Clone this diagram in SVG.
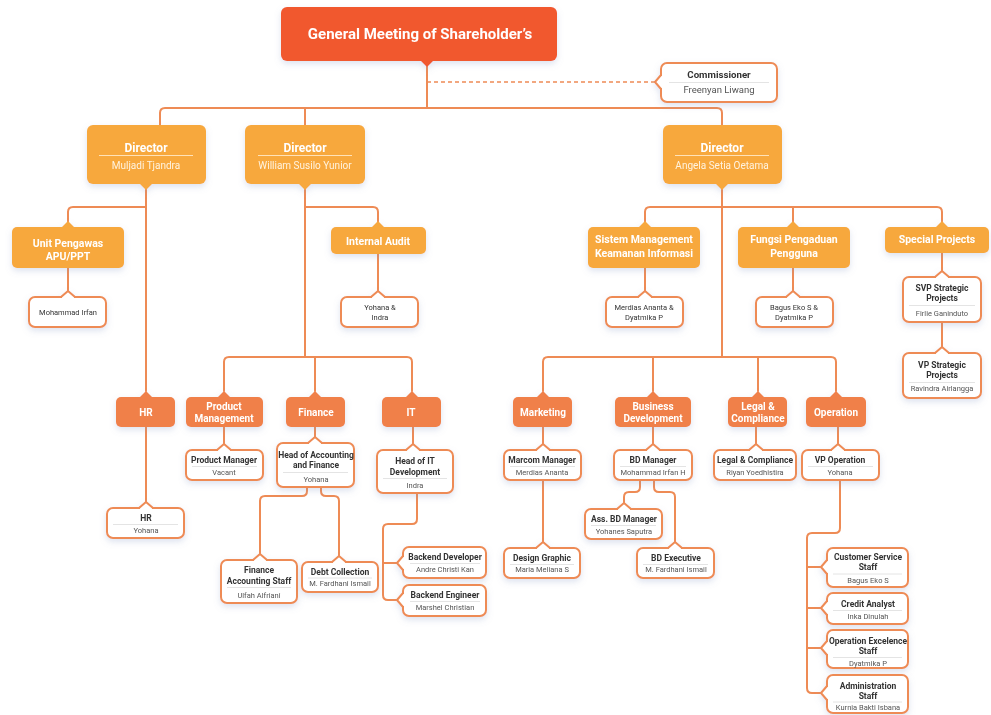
<svg xmlns="http://www.w3.org/2000/svg" xmlns:xlink="http://www.w3.org/1999/xlink" width="991" height="715" viewBox="0 0 991 715">
<style>
text{font-family:Roboto,"Liberation Sans",sans-serif;text-anchor:middle}
.ln{fill:none;stroke:#EE8B55;stroke-width:2;stroke-linejoin:round;stroke-linecap:round}
.dash{fill:none;stroke:#EE8B55;stroke-width:1.3;stroke-dasharray:4 3}
.gm{fill:#F1592F}
.am{fill:#F7A83E}
.dp{fill:#F08048}
.wb{fill:#fff;stroke:#EE8B55;stroke-width:2}
.sepw{stroke:#FFE2B8;stroke-width:1}
.sep{stroke:#DDDDDD;stroke-width:0.8}
.t0{font-size:15px;font-weight:700;fill:#fff}
.dt{font-size:12px;font-weight:700;fill:#fff}
.dn{font-size:10px;fill:#FFF3DF}
.at{font-size:10.5px;font-weight:700;fill:#fff}
.pt{font-size:10px;font-weight:700;fill:#fff}
.wt{font-size:8.5px;font-weight:700;fill:#333}
.wn{font-size:7.5px;fill:#555}
.ws{font-size:7.5px;fill:#333}
</style>
<defs>
<filter id="sh" x="-20%" y="-20%" width="140%" height="160%">
<feDropShadow dx="0" dy="3" stdDeviation="3" flood-color="#7C8FC0" flood-opacity="0.25"/>
</filter>
<path id="nUp" d="M-7 1 L0 -6 L7 1 Z"/>
<path id="nDown" d="M-7 -1 L0 6 L7 -1 Z"/>
<g id="wUp"><path d="M-6 1.2 L-6 -0.5 L0 -5.5 L6 -0.5 L6 1.2 Z" fill="#fff"/><path d="M-7 0 L0 -6 L7 0" fill="none" stroke="#EE8B55" stroke-width="2" stroke-linejoin="round"/></g>
<g id="wLeft"><path d="M1.2 -6 L-0.5 -6 L-5.5 0 L-0.5 6 L1.2 6 Z" fill="#fff"/><path d="M0 -7 L-6 0 L0 7" fill="none" stroke="#EE8B55" stroke-width="2" stroke-linejoin="round"/></g>
</defs>

<g id="connectors">
<path class="ln" d="M427 64 V108"/>
<path class="dash" d="M427 82 H655"/>
<path class="ln" d="M160 125 V113 Q160 108 165 108 H717 Q722 108 722 113 V125"/>
<path class="ln" d="M305 108 V125"/>
<path class="ln" d="M146 184 V391"/>
<path class="ln" d="M146 207 H73 Q68 207 68 212 V222"/>
<path class="ln" d="M68 268 V292"/>
<path class="ln" d="M146 427 V503"/>
<path class="ln" d="M305 184 V357"/>
<path class="ln" d="M305 207 H373 Q378 207 378 212 V222"/>
<path class="ln" d="M378 254 V292"/>
<path class="ln" d="M224 391 V362 Q224 357 229 357 H407 Q412 357 412 362 V391"/>
<path class="ln" d="M315 357 V391"/>
<path class="ln" d="M224 427 V445"/>
<path class="ln" d="M315 427 V438"/>
<path class="ln" d="M413 427 V445"/>
<path class="ln" d="M307 487 V491 Q307 496 302 496 H265 Q260 496 260 501 V555"/>
<path class="ln" d="M321 487 V491 Q321 496 326 496 H334 Q339 496 339 501 V557"/>
<path class="ln" d="M417 493 V519 Q417 524 412 524 H388 Q383 524 383 529 V595 Q383 600 388 600 H398"/>
<path class="ln" d="M383 563 H398"/>
<path class="ln" d="M722 184 V357"/>
<path class="ln" d="M645 222 V212 Q645 207 650 207 H937 Q942 207 942 212 V222"/>
<path class="ln" d="M793 207 V222"/>
<path class="ln" d="M645 268 V292"/>
<path class="ln" d="M793 268 V292"/>
<path class="ln" d="M942 253 V272"/>
<path class="ln" d="M942 322 V348"/>
<path class="ln" d="M543 391 V362 Q543 357 548 357 H831 Q836 357 836 362 V391"/>
<path class="ln" d="M653 357 V391"/>
<path class="ln" d="M758 357 V391"/>
<path class="ln" d="M543 427 V445"/>
<path class="ln" d="M543 480 V543"/>
<path class="ln" d="M653 427 V445"/>
<path class="ln" d="M640 480 V487 Q640 492 635 492 H629 Q624 492 624 497 V504"/>
<path class="ln" d="M654 480 V487 Q654 492 659 492 H670 Q675 492 675 497 V543"/>
<path class="ln" d="M756 427 V445"/>
<path class="ln" d="M838 427 V445"/>
<path class="ln" d="M840 480 V528 Q840 533 835 533 H812 Q807 533 807 538 V688 Q807 693 812 693 H822"/>
<path class="ln" d="M807 567 H822"/>
<path class="ln" d="M807 608 H822"/>
<path class="ln" d="M807 648 H822"/>
</g>

<g id="gms" filter="url(#sh)">
<rect class="gm" x="281" y="7" width="276" height="54" rx="6"/>
<use href="#nDown" class="gm" x="427" y="61"/>
<text class="t0" x="420" y="39">General Meeting of Shareholder’s</text>
</g>
<g id="commissioner" filter="url(#sh)">
<rect class="wb" x="661" y="63" width="116" height="39" rx="6"/>
<use href="#wLeft" x="661" y="82"/>
<text class="wt" x="719" y="78" style="font-size:9.7px">Commissioner</text>
<line class="sep" x1="669" y1="82.5" x2="769" y2="82.5"/>
<text class="wn" x="719" y="93" style="font-size:9.5px">Freenyan Liwang</text>
</g>

<g id="dir1" filter="url(#sh)">
<rect class="am" x="87" y="125" width="119" height="59" rx="6"/>
<use href="#nDown" class="am" x="146" y="184"/>
<text class="dt" x="146" y="152">Director</text>
<line class="sepw" x1="99" y1="155.5" x2="193" y2="155.5"/>
<text class="dn" x="146" y="169">Muljadi Tjandra</text>
</g>
<g id="dir2" filter="url(#sh)">
<rect class="am" x="245" y="125" width="120" height="59" rx="6"/>
<use href="#nDown" class="am" x="305" y="184"/>
<text class="dt" x="305" y="152">Director</text>
<line class="sepw" x1="258" y1="155.5" x2="352" y2="155.5"/>
<text class="dn" x="305" y="169">William Susilo Yunior</text>
</g>
<g id="dir3" filter="url(#sh)">
<rect class="am" x="663" y="125" width="119" height="59" rx="6"/>
<use href="#nDown" class="am" x="722" y="184"/>
<text class="dt" x="722" y="152">Director</text>
<line class="sepw" x1="675" y1="155.5" x2="769" y2="155.5"/>
<text class="dn" x="722" y="169">Angela Setia Oetama</text>
</g>

<g id="apu" filter="url(#sh)">
<rect class="am" x="12" y="227" width="112" height="41" rx="5"/>
<use href="#nUp" class="am" x="68" y="227"/>
<text class="at" x="68" y="247">Unit Pengawas</text>
<text class="at" x="68" y="260">APU/PPT</text>
</g>
<g id="audit" filter="url(#sh)">
<rect class="am" x="331" y="227" width="95" height="27" rx="5"/>
<use href="#nUp" class="am" x="378" y="227"/>
<text class="at" x="378" y="245">Internal Audit</text>
</g>
<g id="smki" filter="url(#sh)">
<rect class="am" x="588" y="227" width="112" height="41" rx="5"/>
<use href="#nUp" class="am" x="645" y="227"/>
<text class="at" x="644" y="243">Sistem Management</text>
<text class="at" x="644" y="257">Keamanan Informasi</text>
</g>
<g id="fpp" filter="url(#sh)">
<rect class="am" x="738" y="227" width="112" height="41" rx="5"/>
<use href="#nUp" class="am" x="793" y="227"/>
<text class="at" x="794" y="243">Fungsi Pengaduan</text>
<text class="at" x="794" y="257">Pengguna</text>
</g>
<g id="special" filter="url(#sh)">
<rect class="am" x="885" y="227" width="104" height="26" rx="5"/>
<use href="#nUp" class="am" x="942" y="227"/>
<text class="at" x="937" y="243">Special Projects</text>
</g>

<g id="irfan" filter="url(#sh)">
<rect class="wb" x="29" y="297" width="77" height="30" rx="6"/>
<use href="#wUp" x="68" y="297"/>
<text class="ws" x="68" y="315">Mohammad Irfan</text>
</g>
<g id="yohana-indra" filter="url(#sh)">
<rect class="wb" x="341" y="297" width="77" height="30" rx="6"/>
<use href="#wUp" x="378" y="297"/>
<text class="ws" x="380" y="310">Yohana &amp;</text>
<text class="ws" x="380" y="320">Indra</text>
</g>
<g id="merdias-dyatmika" filter="url(#sh)">
<rect class="wb" x="606" y="297" width="77" height="30" rx="6"/>
<use href="#wUp" x="645" y="297"/>
<text class="ws" x="644" y="310">Merdias Ananta &amp;</text>
<text class="ws" x="644" y="320">Dyatmika P</text>
</g>
<g id="bagus-dyatmika" filter="url(#sh)">
<rect class="wb" x="756" y="297" width="77" height="30" rx="6"/>
<use href="#wUp" x="793" y="297"/>
<text class="ws" x="794" y="310">Bagus Eko S &amp;</text>
<text class="ws" x="794" y="320">Dyatmika P</text>
</g>
<g id="svp" filter="url(#sh)">
<rect class="wb" x="903" y="277" width="78" height="45" rx="6"/>
<use href="#wUp" x="942" y="277"/>
<text class="wt" x="942" y="291">SVP Strategic</text>
<text class="wt" x="942" y="301">Projects</text>
<line class="sep" x1="909" y1="305.5" x2="975" y2="305.5"/>
<text class="wn" x="942" y="316">Firlie Ganinduto</text>
</g>
<g id="vp-strategic" filter="url(#sh)">
<rect class="wb" x="903" y="353" width="78" height="45" rx="6"/>
<use href="#wUp" x="942" y="353"/>
<text class="wt" x="942" y="368">VP Strategic</text>
<text class="wt" x="942" y="378">Projects</text>
<line class="sep" x1="909" y1="382.5" x2="975" y2="382.5"/>
<text class="wn" x="942" y="391">Ravindra Airlangga</text>
</g>

<g id="hr" filter="url(#sh)">
<rect class="dp" x="116" y="397" width="59" height="30" rx="5"/>
<use href="#nUp" class="dp" x="146" y="397"/>
<text class="pt" x="146" y="416">HR</text>
</g>
<g id="product" filter="url(#sh)">
<rect class="dp" x="186" y="397" width="77" height="30" rx="5"/>
<use href="#nUp" class="dp" x="224" y="397"/>
<text class="pt" x="224" y="409.5">Product</text>
<text class="pt" x="224" y="421.5">Management</text>
</g>
<g id="finance" filter="url(#sh)">
<rect class="dp" x="286" y="397" width="59" height="30" rx="5"/>
<use href="#nUp" class="dp" x="315" y="397"/>
<text class="pt" x="316" y="416">Finance</text>
</g>
<g id="it" filter="url(#sh)">
<rect class="dp" x="382" y="397" width="59" height="30" rx="5"/>
<use href="#nUp" class="dp" x="412" y="397"/>
<text class="pt" x="411" y="416">IT</text>
</g>
<g id="marketing" filter="url(#sh)">
<rect class="dp" x="513" y="397" width="59" height="30" rx="5"/>
<use href="#nUp" class="dp" x="543" y="397"/>
<text class="pt" x="543" y="416">Marketing</text>
</g>
<g id="bizdev" filter="url(#sh)">
<rect class="dp" x="615" y="397" width="76" height="30" rx="5"/>
<use href="#nUp" class="dp" x="653" y="397"/>
<text class="pt" x="653" y="409.5">Business</text>
<text class="pt" x="653" y="421.5">Development</text>
</g>
<g id="legal" filter="url(#sh)">
<rect class="dp" x="728" y="397" width="59" height="30" rx="5"/>
<use href="#nUp" class="dp" x="758" y="397"/>
<text class="pt" x="758" y="409.5">Legal &amp;</text>
<text class="pt" x="758" y="421.5">Compliance</text>
</g>
<g id="operation" filter="url(#sh)">
<rect class="dp" x="806" y="397" width="60" height="30" rx="5"/>
<use href="#nUp" class="dp" x="836" y="397"/>
<text class="pt" x="836" y="416">Operation</text>
</g>

<g id="product-manager" filter="url(#sh)">
<rect class="wb" x="186" y="450" width="77" height="30" rx="6"/>
<use href="#wUp" x="224" y="450"/>
<text class="wt" x="224" y="463">Product Manager</text>
<line class="sep" x1="192" y1="466.5" x2="257" y2="466.5"/>
<text class="wn" x="224" y="475">Vacant</text>
</g>
<g id="head-accounting" filter="url(#sh)">
<rect class="wb" x="277" y="443" width="77" height="44" rx="6"/>
<use href="#wUp" x="315" y="443"/>
<text class="wt" x="316" y="458">Head of Accounting</text>
<text class="wt" x="316" y="468">and Finance</text>
<line class="sep" x1="283" y1="472.5" x2="348" y2="472.5"/>
<text class="wn" x="316" y="482">Yohana</text>
</g>
<g id="head-it" filter="url(#sh)">
<rect class="wb" x="377" y="450" width="76" height="43" rx="6"/>
<use href="#wUp" x="413" y="450"/>
<text class="wt" x="415" y="464">Head of IT</text>
<text class="wt" x="415" y="474.5">Development</text>
<line class="sep" x1="383" y1="478.5" x2="447" y2="478.5"/>
<text class="wn" x="415" y="488">Indra</text>
</g>
<g id="hr-yohana" filter="url(#sh)">
<rect class="wb" x="107" y="508" width="77" height="30" rx="6"/>
<use href="#wUp" x="146" y="508"/>
<text class="wt" x="146" y="521">HR</text>
<line class="sep" x1="113" y1="524.5" x2="178" y2="524.5"/>
<text class="wn" x="146" y="533">Yohana</text>
</g>
<g id="marcom" filter="url(#sh)">
<rect class="wb" x="504" y="450" width="77" height="30" rx="6"/>
<use href="#wUp" x="543" y="450"/>
<text class="wt" x="542" y="463">Marcom Manager</text>
<line class="sep" x1="510" y1="466.5" x2="575" y2="466.5"/>
<text class="wn" x="542" y="474.5">Merdias Ananta</text>
</g>
<g id="bd-manager" filter="url(#sh)">
<rect class="wb" x="614" y="450" width="78" height="30" rx="6"/>
<use href="#wUp" x="653" y="450"/>
<text class="wt" x="653" y="463">BD Manager</text>
<line class="sep" x1="620" y1="466.5" x2="686" y2="466.5"/>
<text class="wn" x="653" y="474.5">Mohammad Irfan H</text>
</g>
<g id="legal-compliance" filter="url(#sh)">
<rect class="wb" x="714" y="450" width="82" height="30" rx="6"/>
<use href="#wUp" x="756" y="450"/>
<text class="wt" x="755" y="463">Legal &amp; Compliance</text>
<line class="sep" x1="720" y1="466.5" x2="790" y2="466.5"/>
<text class="wn" x="755" y="474.5">Riyan Yoedhistira</text>
</g>
<g id="vp-operation" filter="url(#sh)">
<rect class="wb" x="802" y="450" width="77" height="30" rx="6"/>
<use href="#wUp" x="838" y="450"/>
<text class="wt" x="840" y="463">VP Operation</text>
<line class="sep" x1="808" y1="466.5" x2="873" y2="466.5"/>
<text class="wn" x="840" y="474.5">Yohana</text>
</g>

<g id="finance-staff" filter="url(#sh)">
<rect class="wb" x="221" y="560" width="76" height="43" rx="6"/>
<use href="#wUp" x="260" y="560"/>
<text class="wt" x="259" y="573">Finance</text>
<text class="wt" x="259" y="583.5">Accounting Staff</text>
<line class="sep" x1="227" y1="587.5" x2="291" y2="587.5"/>
<text class="wn" x="259" y="597.5">Ulfah Alfriani</text>
</g>
<g id="debt" filter="url(#sh)">
<rect class="wb" x="302" y="562" width="76" height="30" rx="6"/>
<use href="#wUp" x="339" y="562"/>
<text class="wt" x="340" y="574.5">Debt Collection</text>
<line class="sep" x1="308" y1="578" x2="372" y2="578"/>
<text class="wn" x="340" y="586">M. Fardhani Ismail</text>
</g>
<g id="backend-dev" filter="url(#sh)">
<rect class="wb" x="403" y="547" width="83" height="31" rx="6"/>
<use href="#wLeft" x="403" y="563"/>
<text class="wt" x="445" y="560">Backend Developer</text>
<line class="sep" x1="410" y1="563.5" x2="480" y2="563.5"/>
<text class="wn" x="445" y="571.5">Andre Christi Kan</text>
</g>
<g id="backend-eng" filter="url(#sh)">
<rect class="wb" x="403" y="585" width="83" height="31" rx="6"/>
<use href="#wLeft" x="403" y="600"/>
<text class="wt" x="445" y="598">Backend Engineer</text>
<line class="sep" x1="410" y1="601.5" x2="480" y2="601.5"/>
<text class="wn" x="445" y="609.5">Marshel Christian</text>
</g>
<g id="ass-bd" filter="url(#sh)">
<rect class="wb" x="585" y="509" width="77" height="30" rx="6"/>
<use href="#wUp" x="624" y="509"/>
<text class="wt" x="624" y="522">Ass. BD Manager</text>
<line class="sep" x1="591" y1="525.5" x2="656" y2="525.5"/>
<text class="wn" x="624" y="533.5">Yohanes Saputra</text>
</g>
<g id="design" filter="url(#sh)">
<rect class="wb" x="504" y="548" width="76" height="30" rx="6"/>
<use href="#wUp" x="543" y="548"/>
<text class="wt" x="542" y="560.5">Design Graphic</text>
<line class="sep" x1="510" y1="564.5" x2="574" y2="564.5"/>
<text class="wn" x="542" y="572">Maria Meliana S</text>
</g>
<g id="bd-exec" filter="url(#sh)">
<rect class="wb" x="637" y="548" width="77" height="30" rx="6"/>
<use href="#wUp" x="675" y="548"/>
<text class="wt" x="676" y="560.5">BD Executive</text>
<line class="sep" x1="643" y1="564.5" x2="708" y2="564.5"/>
<text class="wn" x="676" y="572">M. Fardhani Ismail</text>
</g>
<g id="cs-staff" filter="url(#sh)">
<rect class="wb" x="827" y="548" width="81" height="39" rx="6"/>
<use href="#wLeft" x="827" y="567"/>
<text class="wt" x="868" y="559.5">Customer Service</text>
<text class="wt" x="868" y="570">Staff</text>
<line class="sep" x1="833" y1="574" x2="902" y2="574"/>
<text class="wn" x="868" y="582.5">Bagus Eko S</text>
</g>
<g id="credit" filter="url(#sh)">
<rect class="wb" x="827" y="593" width="81" height="31" rx="6"/>
<use href="#wLeft" x="827" y="608"/>
<text class="wt" x="868" y="607">Credit Analyst</text>
<line class="sep" x1="833" y1="610.5" x2="902" y2="610.5"/>
<text class="wn" x="868" y="618.5">Inka Dinulah</text>
</g>
<g id="opex" filter="url(#sh)">
<rect class="wb" x="827" y="630" width="81" height="38" rx="6"/>
<use href="#wLeft" x="827" y="648"/>
<text class="wt" x="868" y="644">Operation Excelence</text>
<text class="wt" x="868" y="654">Staff</text>
<line class="sep" x1="833" y1="657.5" x2="902" y2="657.5"/>
<text class="wn" x="868" y="665.5">Dyatmika P</text>
</g>
<g id="admin" filter="url(#sh)">
<rect class="wb" x="827" y="675" width="81" height="38" rx="6"/>
<use href="#wLeft" x="827" y="693"/>
<text class="wt" x="868" y="688.5">Administration</text>
<text class="wt" x="868" y="698.5">Staff</text>
<line class="sep" x1="833" y1="702" x2="902" y2="702"/>
<text class="wn" x="868" y="710">Kurnia Bakti Isbana</text>
</g>
</svg>
